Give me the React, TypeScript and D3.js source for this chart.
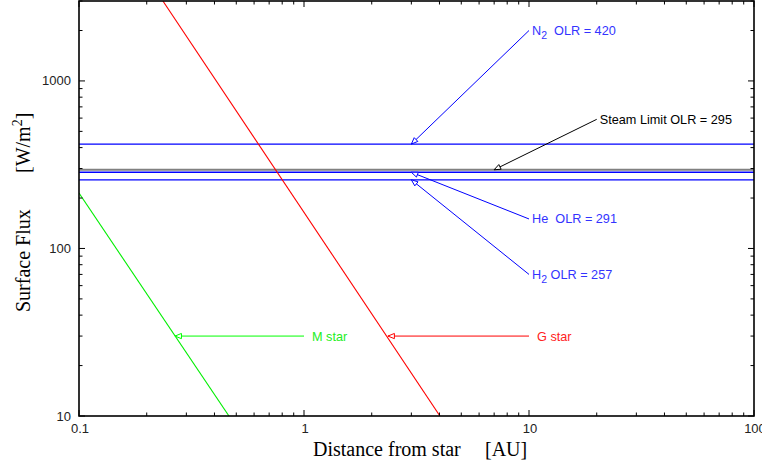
import React from "react";
import * as d3 from "d3";

const W = 762;
const H = 464;
const M = { left: 79, right: 754, top: 1, bottom: 416 };

const xDomain = [0.1, 100];
const yDomain = [10, 3000];
const xTickLabels = [0.1, 1, 10, 100];
const yTickLabels = [10, 100, 1000];

// OLR limits (horizontal lines)
const olrNames = ["N2", "Steam", "He", "H2"];
const olrValues = [420, 295, 285, 257];
const olrColors = ["#0000ff", "#808080", "#0000ff", "#0000ff"];
const olrWidths = [1.3, 2.2, 1.3, 1.3];

// Star flux curves (distance AU, surface flux W/m2)
const gStarD = [0.236, 4.02];
const gStarF = [3000, 10];
const mStarD = [0.1, 0.464];
const mStarF = [214, 10];

// Annotations: label anchor (data) -> arrow tip (data)
const annText = [
  ["N", "2", "  OLR = 420"],
  ["Steam Limit OLR = 295", "", ""],
  ["He  OLR = 291", "", ""],
  ["H", "2", " OLR = 257"],
  ["G star", "", ""],
  ["M star", "", ""],
];
const annColors = ["#3333ff", "#000000", "#3333ff", "#3333ff", "#ff2222", "#22ee22"];
const annLineColors = ["#0000ff", "#000000", "#0000ff", "#0000ff", "#ff0000", "#00ff00"];
const annFromX = [10, 20, 10, 10, 10, 1];
const annFromY = [2000, 590, 150, 70, 30, 30];
const annToX = [3, 7, 3, 3, 2.36, 0.267];
const annToY = [420, 295, 285, 257, 30, 30];

export default function App() {
  const x = d3.scaleLog().domain(xDomain).range([M.left, M.right]);
  const y = d3.scaleLog().domain(yDomain).range([M.bottom, M.top]);
  const xTicks = x.ticks();
  const yTicks = y.ticks();
  const isMajor = (v: number) => Math.abs(Math.log10(v) - Math.round(Math.log10(v))) < 1e-6;

  const line = d3
    .line<[number, number]>()
    .x((d) => x(d[0]))
    .y((d) => y(d[1]));

  const gPts: [number, number][] = gStarD.map((d, i) => [d, gStarF[i]]);
  const mPts: [number, number][] = mStarD.map((d, i) => [d, mStarF[i]]);

  const sans = "'Liberation Sans', Arial, Helvetica, sans-serif";
  const serif = "'Liberation Serif', 'Times New Roman', serif";

  const arrowHead = (x1: number, y1: number, x2: number, y2: number, color: string) => {
    const ang = Math.atan2(y1 - y2, x1 - x2);
    const L = 6.5;
    const hw = 2.6;
    const bx = x2 + L * Math.cos(ang);
    const by = y2 + L * Math.sin(ang);
    const px = -Math.sin(ang) * hw;
    const py = Math.cos(ang) * hw;
    return (
      <path
        d={`M${x2},${y2}L${bx + px},${by + py}L${bx - px},${by - py}Z`}
        fill="#fff"
        stroke={color}
        strokeWidth={1}
      />
    );
  };

  return (
    <svg
      width={W}
      height={H}
      style={{ position: "absolute", left: 0, top: 0, background: "#fff" }}
    >
      <defs>
        <clipPath id="plotclip">
          <rect x={M.left} y={M.top} width={M.right - M.left} height={M.bottom - M.top} />
        </clipPath>
      </defs>
      <rect width={W} height={H} fill="#fff" />

      <g clipPath="url(#plotclip)">
        {olrValues.map((v, i) => (
          <line
            key={olrNames[i]}
            x1={M.left}
            x2={M.right}
            y1={y(v)}
            y2={y(v)}
            stroke={olrColors[i]}
            strokeWidth={olrWidths[i]}
          />
        ))}
        <path d={line(gPts) || ""} fill="none" stroke="#ff0000" strokeWidth={1.1} />
        <path d={line(mPts) || ""} fill="none" stroke="#00ee00" strokeWidth={1.1} />
      </g>

      {annText.map((t, i) => {
        const x1 = x(annFromX[i]);
        const y1 = y(annFromY[i]);
        const x2 = x(annToX[i]);
        const y2 = y(annToY[i]);
        const isStar = i >= 4;
        return (
          <g key={i}>
            <line x1={x1} y1={y1} x2={x2} y2={y2} stroke={annLineColors[i]} strokeWidth={1} />
            {arrowHead(x1, y1, x2, y2, annLineColors[i])}
            <text
              x={x1 + (isStar ? 8 : 3)}
              y={y1 + 4.5}
              fill={annColors[i]}
              fontFamily={sans}
              fontSize={12.7}
              style={{ whiteSpace: "pre" }}
            >
              {t[0]}
              {t[1] ? (
                <tspan fontSize={10.5} dy={4}>
                  {t[1]}
                </tspan>
              ) : null}
              {t[2] ? <tspan dy={t[1] ? -4 : 0}>{t[2]}</tspan> : null}
            </text>
          </g>
        );
      })}

      {/* ticks */}
      {xTicks.map((v, i) => {
        const len = isMajor(v) ? 6 : 3.5;
        return (
          <g key={"xt" + i}>
            <line x1={x(v)} x2={x(v)} y1={M.bottom} y2={M.bottom - len} stroke="#000" strokeWidth={1} />
            <line x1={x(v)} x2={x(v)} y1={M.top} y2={M.top + len} stroke="#000" strokeWidth={1} />
          </g>
        );
      })}
      {yTicks.map((v, i) => {
        const len = isMajor(v) ? 6 : 3.5;
        return (
          <g key={"yt" + i}>
            <line x1={M.left} x2={M.left + len} y1={y(v)} y2={y(v)} stroke="#000" strokeWidth={1} />
            <line x1={M.right} x2={M.right - len} y1={y(v)} y2={y(v)} stroke="#000" strokeWidth={1} />
          </g>
        );
      })}

      <rect
        x={M.left}
        y={M.top}
        width={M.right - M.left}
        height={M.bottom - M.top}
        fill="none"
        stroke="#000"
        strokeWidth={1.6}
      />

      {xTickLabels.map((v) => (
        <text
          key={"xl" + v}
          x={x(v) + 1}
          y={433}
          textAnchor="middle"
          fontFamily={sans}
          fontSize={13}
          fill="#222"
        >
          {v}
        </text>
      ))}
      {yTickLabels.map((v) => (
        <text
          key={"yl" + v}
          x={71}
          y={y(v) + 4.5}
          textAnchor="end"
          fontFamily={sans}
          fontSize={13}
          fill="#222"
        >
          {v}
        </text>
      ))}

      <text x={313} y={456} fontFamily={serif} fontSize={20} fill="#000">
        Distance from star
      </text>
      <text x={485} y={456} fontFamily={serif} fontSize={20} fill="#000">
        [AU]
      </text>

      <g transform="translate(30,312) rotate(-90)">
        <text x={0} y={0} fontFamily={serif} fontSize={20} fill="#000">
          Surface Flux
        </text>
        <text x={139} y={0} fontFamily={serif} fontSize={20} fill="#000">
          [W/m
          <tspan fontSize={14} dy={-8}>
            2
          </tspan>
          <tspan dy={8}>]</tspan>
        </text>
      </g>
    </svg>
  );
}
